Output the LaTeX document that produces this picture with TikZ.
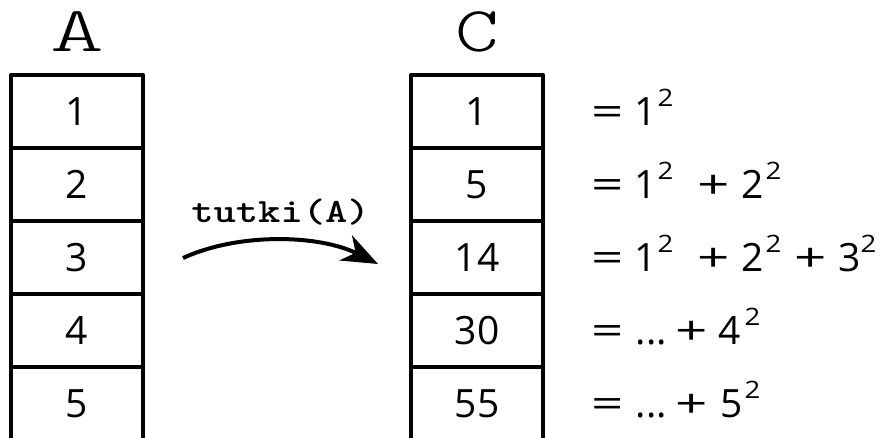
\documentclass[tikz,border=0pt]{standalone}
\usepackage{fontspec}
\usepackage{graphicx}
\setmainfont{Open Sans}
\newfontfamily\titlefont{lmmonolt10-regular.otf}
\usetikzlibrary{arrows.meta}

% pieces of a sum line, each placed at its own offset from the line start
\newcommand\piece[2]{\makebox[0pt][l]{\hspace*{#1pt}#2}}
\newcommand\wideop[1]{\scalebox{1.45}[1]{#1}}
\newcommand\two[1]{\piece{#1}{\raisebox{19pt}{\scalebox{1.15}[1]{\fontsize{24}{24}\selectfont 2}}}}

\tikzset{
  cell/.style={minimum width=132pt, minimum height=73pt, inner sep=0pt,
    font=\fontsize{39}{39}\selectfont},
  tablerule/.style={line width=3.6pt, line join=round, line cap=butt},
  title/.style={inner sep=0pt, font=\fontsize{64}{64}\titlefont},
  sumline/.style={anchor=base west, inner sep=0pt,
    font=\fontsize{39}{39}\selectfont},
  fnlabel/.style={anchor=base, inner sep=0pt, xscale=1.25,
    font=\fontsize{34}{34}\ttfamily\bfseries},
  maparrow/.style={line width=4pt,
    -{Stealth[length=36pt, width=28pt, inset=11pt]}},
}

\begin{document}
\begin{tikzpicture}[x=1pt, y=-1pt]
\useasboundingbox (0,0) rectangle (885,437);

% column titles
\node[title, xscale=1.6] (tA) at (77,32) {A};
\node[title, xscale=1.3] (tC) at (477,32) {C};

% input column
\node[cell] (a1) at (77,111.5) {1};
\node[cell] (a2) at (77,184.5) {2};
\node[cell] (a3) at (77,257.5) {3};
\node[cell] (a4) at (77,330.5) {4};
\node[cell] (a5) at (77,403.5) {5};

% output column
\node[cell] (c1) at (477,111.5) {1};
\node[cell] (c2) at (477,184.5) {5};
\node[cell] (c3) at (477,257.5) {14};
\node[cell] (c4) at (477,330.5) {30};
\node[cell] (c5) at (477,403.5) {55};

% column outlines, open at the bottom
\foreach \col in {a,c}{
  \draw[tablerule] (\col5.south west) -- (\col1.north west)
    -- (\col1.north east) -- (\col5.south east);
  \foreach \r in {1,2,3,4}
    \draw[tablerule] (\col\r.south west) -- (\col\r.south east);
}

% partial sums of squares
\node[sumline] (s1) at (593,125.5) {\piece{-2}{\wideop{=}}\piece{41}{1}\two{64}};
\node[sumline] (s2) at (593,198.5) {\piece{-2}{\wideop{=}}\piece{41}{1}\two{64}%
  \piece{104}{\wideop{+}}\piece{148}{2}\two{172}};
\node[sumline] (s3) at (593,271.5) {\piece{-2}{\wideop{=}}\piece{41}{1}\two{64}%
  \piece{104}{\wideop{+}}\piece{148}{2}\two{172}%
  \piece{201}{\wideop{+}}\piece{245}{3}\two{267}};
\node[sumline] (s4) at (593,344.5) {\piece{-2}{\wideop{=}}\piece{42}{...}%
  \piece{82}{\wideop{+}}\piece{125}{4}\two{151}};
\node[sumline] (s5) at (593,417.5) {\piece{-2}{\wideop{=}}\piece{42}{...}%
  \piece{82}{\wideop{+}}\piece{127}{5}\two{151}};

% mapping arrow
\coordinate (from) at (183,258);
\coordinate (to) at (378,264);
\draw[maparrow] (from) .. controls (240,232) and (320,235) .. (to);
\node[fnlabel] (fn) at (280.5,222) {tutki(A)};
\end{tikzpicture}
\end{document}
